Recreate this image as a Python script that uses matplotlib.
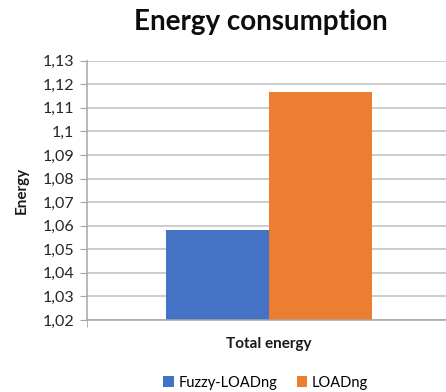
import numpy as np
import matplotlib
matplotlib.use("Agg")
from matplotlib import pyplot as plt
from matplotlib.ticker import FuncFormatter, FixedLocator

# energy totals per protocol
categories = ["Total energy"]
series_names = ["Fuzzy-LOADng", "LOADng"]
fuzzy_loadng = [1.0582]
loadng = [1.1167]
y_ticks = [1.02, 1.03, 1.04, 1.05, 1.06, 1.07, 1.08, 1.09, 1.10, 1.11, 1.12, 1.13]

plt.rcParams['font.family'] = ['Lato', 'DejaVu Sans']

axis_grey = "#a6a6a6"

fig = plt.figure(figsize=(4.46, 3.92), dpi=100)
ax = fig.add_axes([0.1944, 0.1837, 0.8056, 0.6615])

x = np.arange(len(categories))
w = 1.0
ax.bar(x - w / 2, fuzzy_loadng, w, bottom=0, color="#4472C4", label=series_names[0], zorder=3)
ax.bar(x + w / 2, loadng, w, bottom=0, color="#ED7D31", label=series_names[1], zorder=3)

x_lo, x_hi = -1.767, 1.721
ax.set_ylim(y_ticks[0], y_ticks[-1])
ax.set_xlim(x_lo, x_hi)
ax.yaxis.set_major_locator(FixedLocator(y_ticks))
ax.yaxis.set_major_formatter(FuncFormatter(lambda v, p: ("%g" % round(v, 2)).replace(".", ",")))
ax.yaxis.set_minor_locator(FixedLocator([]))
ax.grid(axis="y", color="#bfbfbf", linewidth=1.1, zorder=0)

ax.set_xticks(x)
ax.set_xticklabels(categories, fontsize=11, fontweight="bold", color="#1a1a1a")
ax.tick_params(axis="x", length=0, pad=12)
ax.xaxis.set_minor_locator(FixedLocator([x_lo]))
ax.tick_params(axis="x", which="minor", length=5, color=axis_grey, direction="out")
ax.tick_params(axis="y", length=5, color=axis_grey, labelsize=11.5, pad=4, labelcolor="#262626")

# axis lines drawn by hand instead of spines
for s in ax.spines.values():
    s.set_visible(False)
ax.axhline(y_ticks[0], color=axis_grey, linewidth=1.1, zorder=4, clip_on=False)
ax.axvline(x_lo, color=axis_grey, linewidth=1.1, zorder=4, clip_on=False)

ax.set_ylabel("Energy", fontsize=11, fontweight="bold", labelpad=10, color="#1a1a1a")
fig.text(0.585, 0.944, "Energy consumption", fontsize=20, fontweight="bold",
         ha="center", va="center", color="#0d0d0d")

fig.legend(loc="center", bbox_to_anchor=(0.596, 0.024), ncol=2, frameon=False,
           fontsize=10.5, handlelength=0.7, handleheight=0.7, handletextpad=0.35,
           columnspacing=1.3, borderpad=0.2)

fig.savefig("out.png", dpi=100)
